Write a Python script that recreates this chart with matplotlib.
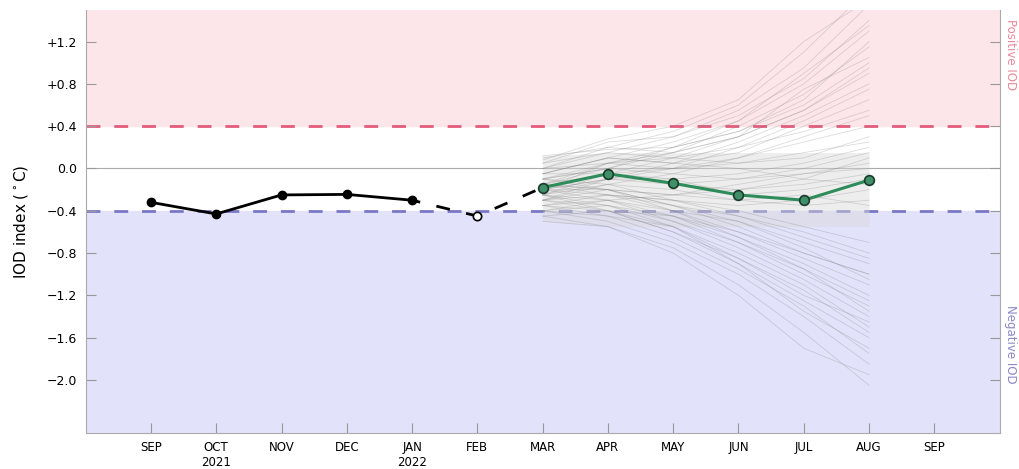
import matplotlib
matplotlib.use("Agg")
import matplotlib.pyplot as plt
import numpy as np

# month positions: 0 = SEP 2021 ... 12 = SEP 2022
month_labels = ["SEP", "OCT\n2021", "NOV", "DEC", "JAN\n2022", "FEB", "MAR",
                "APR", "MAY", "JUN", "JUL", "AUG", "SEP"]

# observed IOD index (SEP..JAN), preliminary FEB value
obs_months = [0, 1, 2, 3, 4]
obs_values = [-0.32, -0.43, -0.25, -0.245, -0.30]
prelim_months = [4, 5, 6]
prelim_values = [-0.30, -0.45, -0.18]

# forecast ensemble mean (MAR..AUG)
fc_months = [6, 7, 8, 9, 10, 11]
fc_mean = [-0.18, -0.05, -0.14, -0.25, -0.30, -0.11]

# individual ensemble members, values for MAR..AUG (read by eye)
members = [
    [0.05, 0.15, 0.30, 0.55, 0.95, 1.55],
    [-0.05, 0.10, 0.25, 0.45, 0.80, 1.30],
    [0.10, 0.20, 0.35, 0.60, 1.10, 1.70],
    [-0.10, 0.00, 0.15, 0.40, 0.70, 1.15],
    [0.00, 0.05, 0.20, 0.35, 0.60, 1.00],
    [-0.15, -0.05, 0.10, 0.30, 0.55, 0.90],
    [0.05, 0.25, 0.30, 0.50, 0.85, 1.40],
    [-0.20, -0.10, 0.05, 0.25, 0.50, 0.80],
    [-0.10, 0.05, 0.10, 0.20, 0.45, 0.75],
    [0.12, 0.18, 0.20, 0.35, 0.65, 1.20],
    [-0.05, 0.10, 0.05, 0.15, 0.40, 0.65],
    [-0.25, -0.10, 0.00, 0.20, 0.35, 0.55],
    [0.00, 0.20, 0.15, 0.30, 0.75, 1.05],
    [-0.15, 0.00, 0.20, 0.45, 0.90, 1.35],
    [-0.30, -0.15, -0.05, 0.10, 0.30, 0.50],
    [0.08, 0.28, 0.40, 0.65, 1.20, 1.60],
    [-0.05, -0.05, 0.00, 0.10, 0.25, 0.40],
    [-0.20, 0.05, 0.15, 0.30, 0.55, 0.95],
    [-0.20, -0.10, -0.10, -0.05, 0.05, 0.20],
    [-0.25, -0.05, -0.15, -0.20, -0.10, 0.10],
    [-0.10, 0.00, -0.05, -0.10, -0.05, 0.00],
    [-0.30, -0.20, -0.25, -0.20, -0.15, -0.05],
    [-0.15, 0.05, 0.00, 0.05, 0.10, 0.30],
    [-0.35, -0.25, -0.30, -0.35, -0.30, -0.20],
    [-0.05, 0.10, 0.05, 0.00, -0.10, -0.15],
    [-0.25, -0.15, -0.20, -0.30, -0.35, -0.30],
    [-0.40, -0.30, -0.25, -0.15, -0.05, 0.05],
    [-0.20, -0.05, -0.10, -0.25, -0.20, -0.10],
    [0.00, 0.15, 0.10, 0.05, 0.15, 0.25],
    [-0.30, -0.10, -0.15, -0.10, 0.00, 0.15],
    [-0.15, -0.20, -0.25, -0.30, -0.25, -0.35],
    [-0.20, -0.25, -0.40, -0.60, -0.85, -1.10],
    [-0.30, -0.35, -0.50, -0.75, -1.05, -1.40],
    [-0.25, -0.30, -0.45, -0.70, -1.00, -1.30],
    [-0.40, -0.45, -0.65, -0.95, -1.30, -1.75],
    [-0.15, -0.20, -0.35, -0.55, -0.80, -1.00],
    [-0.35, -0.40, -0.60, -0.90, -1.25, -1.60],
    [-0.45, -0.55, -0.75, -1.10, -1.55, -2.05],
    [-0.20, -0.30, -0.40, -0.50, -0.70, -0.90],
    [-0.30, -0.25, -0.35, -0.45, -0.65, -0.85],
    [-0.10, -0.15, -0.30, -0.45, -0.60, -0.80],
    [-0.35, -0.45, -0.55, -0.80, -1.10, -1.50],
    [-0.25, -0.35, -0.55, -0.85, -1.20, -1.45],
    [-0.40, -0.50, -0.70, -1.00, -1.40, -1.85],
    [-0.50, -0.55, -0.80, -1.20, -1.70, -1.95],
    [-0.15, -0.25, -0.30, -0.40, -0.55, -0.70],
    [-0.30, -0.40, -0.45, -0.65, -0.90, -1.20],
    [-0.20, -0.20, -0.35, -0.50, -0.75, -1.05],
    [-0.45, -0.40, -0.60, -0.85, -1.15, -1.55],
    [-0.35, -0.30, -0.50, -0.70, -0.95, -1.25],
    [-0.25, -0.40, -0.55, -0.90, -1.35, -1.70],
    [-0.10, -0.20, -0.40, -0.65, -0.95, -1.35],
    [-0.40, -0.35, -0.45, -0.60, -0.80, -1.00],
]

y_ticks = [1.2, 0.8, 0.4, 0.0, -0.4, -0.8, -1.2, -1.6, -2.0]
y_tick_labels = ["+1.2", "+0.8", "+0.4", "0.0", "\u22120.4", "\u22120.8",
                 "\u22121.2", "\u22121.6", "\u22122.0"]
threshold = 0.4

fig = plt.figure(figsize=(10.2, 4.69), dpi=100)
ax = fig.add_axes([0.084, 0.077, 0.896, 0.902])

xlim = (-1, 13)
ylim = (-2.5, 1.5)
ax.set_xlim(*xlim)
ax.set_ylim(*ylim)

# positive / negative IOD zones
ax.axhspan(threshold, ylim[1], color="#fde6ea", zorder=0)
ax.axhspan(ylim[0], -threshold, color="#e2e2fb", zorder=0)
ax.axhline(threshold, color="#e45c7c", lw=2, ls=(0, (5, 5)), zorder=1)
ax.axhline(-threshold, color="#7a78c4", lw=2, ls=(0, (5, 5)), zorder=1)
ax.axhline(0, color="#aaaaaa", lw=0.8, zorder=1)

# dense core of the ensemble
members_arr = np.array(members)
ax.fill_between(fc_months, members_arr.min(axis=0).clip(-0.55), members_arr.max(axis=0).clip(max=0.15),
                color="#d8d8d8", alpha=0.45, lw=0, zorder=1.5)

for m in members:
    ax.plot(fc_months, m, color="#808080", lw=0.6, alpha=0.28, zorder=2)

# observations
ax.plot(obs_months, obs_values, color="black", lw=2, marker="o", ms=6, zorder=4)
ax.plot(prelim_months, prelim_values, color="black", lw=2, ls=(2, (5, 6)), zorder=3)
ax.plot([prelim_months[1]], [prelim_values[1]], marker="o", ms=6, mfc="white",
        mec="black", mew=1.2, ls="none", zorder=5)

# forecast mean
ax.plot(fc_months, fc_mean, color="#2e8b5a", lw=2.2, marker="o", ms=7,
        mfc="#3f8f68", mec="#1a3a2a", mew=1.2, zorder=5)

ax.set_xticks(range(len(month_labels)))
ax.set_xticklabels(month_labels, fontsize=8.5)
ax.set_yticks(y_ticks)
ax.set_yticklabels(y_tick_labels, fontsize=9)
ax.tick_params(direction="in", length=7, color="#999999", right=True, top=False, pad=6)
ax.tick_params(axis="x", pad=6)
for side in ["left", "right", "bottom"]:
    ax.spines[side].set_color("#aaaaaa")
ax.spines["top"].set_visible(False)

ax.set_ylabel("IOD index ($^\\circ$C)", fontsize=11, labelpad=12)

fig.text(0.984, 0.96, "Positive IOD", rotation=270, color="#e8889a", fontsize=8.5,
         ha="left", va="top")
fig.text(0.984, 0.35, "Negative IOD", rotation=270, color="#8a88c8", fontsize=8.5,
         ha="left", va="top")

fig.savefig("out.png", dpi=100)
